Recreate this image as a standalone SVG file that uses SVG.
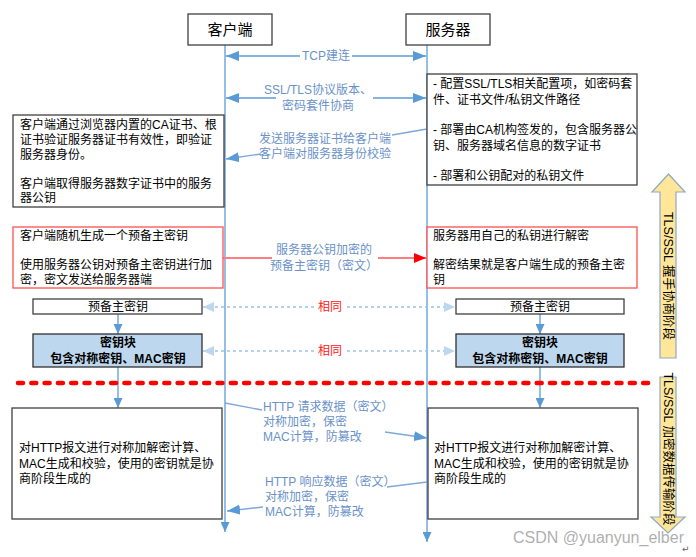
<svg xmlns="http://www.w3.org/2000/svg" width="696" height="557" viewBox="0 0 696 557">
<defs>
<style>
.t{font-family:"Liberation Sans","Noto Sans CJK SC",sans-serif;font-size:12px;fill:#000}
.h{font-family:"Liberation Sans","Noto Sans CJK SC",sans-serif;font-size:15px;fill:#000;text-anchor:middle}
.b{font-family:"Liberation Sans","Noto Sans CJK SC",sans-serif;font-size:12px;font-weight:bold;fill:#000;text-anchor:middle}
.lb{font-family:"Liberation Sans","Noto Sans CJK SC",sans-serif;font-size:12px;fill:#6A92C8}
.same{font-family:"Liberation Sans","Noto Sans CJK SC",sans-serif;font-size:12px;fill:#FF2020;text-anchor:middle}
.box{fill:#fff;stroke:#404040;stroke-width:1.3}
.rbox{fill:#fff;stroke:#FF5050;stroke-width:1.3}
.kbox{fill:#BDD7EE;stroke:#303030;stroke-width:1.3}
.life{stroke:#5B9BD5;stroke-width:1.3;fill:none}
.arr{stroke:#5B9BD5;stroke-width:1.5;fill:none}
.arrl{stroke:#7FA7D8;stroke-width:1.3;fill:none}
.red{stroke:#FF7C80;stroke-width:2;fill:none}
.dash{stroke:#9DC3E6;stroke-width:1.3;stroke-dasharray:3 3;fill:none}
.banner{fill:#FFE699;stroke:#8EA9C8;stroke-width:1.2}
.bt{font-family:"Liberation Sans","Noto Sans CJK SC",sans-serif;font-size:12.5px;fill:#000;text-anchor:middle}
</style>
<marker id="ab" markerUnits="userSpaceOnUse" markerWidth="13" markerHeight="10" refX="13" refY="5" orient="auto-start-reverse"><path d="M0,0 L13,5 L0,10 z" fill="#5B9BD5"/></marker>
<marker id="abs" markerUnits="userSpaceOnUse" markerWidth="10" markerHeight="9" refX="10" refY="4.5" orient="auto-start-reverse"><path d="M0,0 L10,4.5 L0,9 z" fill="#5B9BD5"/></marker>
<marker id="ar" markerUnits="userSpaceOnUse" markerWidth="12" markerHeight="10" refX="12" refY="5" orient="auto"><path d="M0,0 L12,5 L0,10 z" fill="#FF0000"/></marker>
<marker id="al" markerUnits="userSpaceOnUse" markerWidth="11" markerHeight="10" refX="11" refY="5" orient="auto-start-reverse"><path d="M0,0 L11,5 L0,10 z" fill="#BDD7EE"/></marker>
</defs>
<rect width="696" height="557" fill="#fff"/>

<g id="connectors">
<line class="life" x1="225" y1="45" x2="225" y2="532" marker-end="url(#abs)"/>
<line class="life" x1="427" y1="45" x2="427" y2="542" marker-end="url(#abs)"/>
<line class="arr" x1="226" y1="56" x2="300" y2="56" marker-start="url(#ab)"/>
<line class="arr" x1="352" y1="56" x2="426" y2="56" marker-end="url(#ab)"/>
<line class="arr" x1="226" y1="98" x2="276" y2="98" marker-start="url(#ab)"/>
<line class="arr" x1="373" y1="98" x2="426" y2="98" marker-end="url(#ab)"/>
<line class="arrl" x1="427" y1="129" x2="392" y2="135"/>
<line class="arrl" x1="261" y1="154" x2="226" y2="159" marker-end="url(#ab)"/>
<line class="red" x1="223" y1="258" x2="272" y2="258"/>
<line class="red" x1="378" y1="258" x2="426" y2="258" marker-end="url(#ar)"/>
<line class="dash" x1="203" y1="307" x2="455" y2="307" marker-start="url(#al)" marker-end="url(#al)"/>
<line class="dash" x1="203" y1="351" x2="455" y2="351" marker-start="url(#al)" marker-end="url(#al)"/>
<line class="life" x1="118" y1="314" x2="118" y2="334" marker-end="url(#abs)"/>
<line class="life" x1="540" y1="314" x2="540" y2="334" marker-end="url(#abs)"/>
<line class="life" x1="118" y1="367" x2="118" y2="408" marker-end="url(#abs)"/>
<line class="life" x1="540" y1="367" x2="540" y2="408" marker-end="url(#abs)"/>
<line class="arrl" x1="225" y1="403" x2="262" y2="410"/>
<line class="arrl" x1="385" y1="432" x2="427" y2="438" marker-end="url(#ab)"/>
<line class="arrl" x1="427" y1="482" x2="387" y2="487"/>
<line class="arrl" x1="263" y1="507" x2="227" y2="511" marker-end="url(#ab)"/>
<line x1="18" y1="383" x2="652" y2="383" stroke="#FF0000" stroke-width="4.5" stroke-dasharray="5 8.3" stroke-linecap="round"/>
</g>

<g id="labels">
<text class="lb" x="326" y="60" text-anchor="middle">TCP建连</text>
<text class="lb" x="318" y="94" text-anchor="middle">SSL/TLS协议版本、</text>
<text class="lb" x="318" y="110" text-anchor="middle">密码套件协商</text>
<text class="lb" x="325" y="143" text-anchor="middle">发送服务器证书给客户端</text>
<text class="lb" x="325" y="158" text-anchor="middle">客户端对服务器身份校验</text>
<text class="lb" x="324" y="254" text-anchor="middle">服务器公钥加密的</text>
<text class="lb" x="324" y="270" text-anchor="middle">预备主密钥（密文）</text>
<rect x="314" y="299" width="32" height="16" fill="#fff"/>
<text class="same" x="330" y="311">相同</text>
<rect x="314" y="343" width="32" height="16" fill="#fff"/>
<text class="same" x="330" y="355">相同</text>
<text class="lb" x="263" y="411">HTTP 请求数据（密文）</text>
<text class="lb" x="263" y="426">对称加密，保密</text>
<text class="lb" x="263" y="441">MAC计算，防篡改</text>
<text class="lb" x="265" y="486">HTTP 响应数据（密文）</text>
<text class="lb" x="265" y="501">对称加密，保密</text>
<text class="lb" x="265" y="516">MAC计算，防篡改</text>
</g>

<g id="client">
<rect class="box" x="188" y="14" width="84" height="31"/>
<text class="h" x="230" y="35">客户端</text>
</g>
<g id="server">
<rect class="box" x="406" y="14" width="84" height="31"/>
<text class="h" x="448" y="35">服务器</text>
</g>

<g id="client-verify">
<rect class="box" x="13" y="115" width="211" height="92"/>
<text class="t" x="20" y="129">客户端通过浏览器内置的CA证书、根</text>
<text class="t" x="20" y="144">证书验证服务器证书有效性，即验证</text>
<text class="t" x="20" y="158.5">服务器身份。</text>
<text class="t" x="20" y="187.5">客户端取得服务器数字证书中的服务</text>
<text class="t" x="20" y="202">器公钥</text>
</g>

<g id="server-config">
<rect class="box" x="427" y="74" width="210" height="111"/>
<text class="t" x="433" y="88">- 配置SSL/TLS相关配置项，如密码套</text>
<text class="t" x="433" y="104">件、证书文件/私钥文件路径</text>
<text class="t" x="433" y="134">- 部署由CA机构签发的，包含服务器公</text>
<text class="t" x="433" y="150">钥、服务器域名信息的数字证书</text>
<text class="t" x="433" y="180">- 部署和公钥配对的私钥文件</text>
</g>

<g id="client-premaster">
<rect class="rbox" x="13" y="227" width="210" height="61"/>
<text class="t" x="20" y="240">客户端随机生成一个预备主密钥</text>
<text class="t" x="20" y="269">使用服务器公钥对预备主密钥进行加</text>
<text class="t" x="20" y="284">密，密文发送给服务器端</text>
</g>

<g id="server-decrypt">
<rect class="rbox" x="427" y="227" width="210" height="61"/>
<text class="t" x="433" y="240">服务器用自己的私钥进行解密</text>
<text class="t" x="433" y="269">解密结果就是客户端生成的预备主密</text>
<text class="t" x="433" y="284">钥</text>
</g>

<g id="client-pms">
<rect class="box" x="33" y="299" width="169" height="15"/>
<text class="t" x="118" y="310.5" text-anchor="middle">预备主密钥</text>
</g>
<g id="server-pms">
<rect class="box" x="456" y="299" width="168" height="15"/>
<text class="t" x="540" y="310.5" text-anchor="middle">预备主密钥</text>
</g>

<g id="client-keyblock">
<rect class="kbox" x="33" y="334" width="169" height="33"/>
<text class="b" x="118" y="347">密钥块</text>
<text class="b" x="118" y="363">包含对称密钥、MAC密钥</text>
</g>
<g id="server-keyblock">
<rect class="kbox" x="456" y="334" width="168" height="33"/>
<text class="b" x="540" y="347">密钥块</text>
<text class="b" x="540" y="363">包含对称密钥、MAC密钥</text>
</g>

<g id="client-http">
<rect class="box" x="12" y="408" width="210" height="111"/>
<text class="t" x="19" y="452">对HTTP报文进行对称加解密计算、</text>
<text class="t" x="19" y="468">MAC生成和校验，使用的密钥就是协</text>
<text class="t" x="19" y="483">商阶段生成的</text>
</g>
<g id="server-http">
<rect class="box" x="428" y="408" width="210" height="111"/>
<text class="t" x="434" y="452">对HTTP报文进行对称加解密计算、</text>
<text class="t" x="434" y="468">MAC生成和校验，使用的密钥就是协</text>
<text class="t" x="434" y="483">商阶段生成的</text>
</g>

<g id="handshake-phase">
<polygon class="banner" points="668.5,174 685,192 676,192 676,358 660,358 660,192 652,192"/>
<text class="bt" transform="translate(668,276) rotate(90)" y="4.5">TLS/SSL 握手协商阶段</text>
</g>
<g id="transfer-phase">
<polygon class="banner" points="660,377 676,377 676,517 685,517 668,533 651,517 660,517"/>
<text class="bt" transform="translate(668,449) rotate(90)" y="4.5">TLS/SSL 加密数据传输阶段</text>
</g>

<text x="513" y="543" font-family="Liberation Sans,sans-serif" font-size="16" fill="#A0A0A0" fill-opacity="0.85">CSDN @yuanyun_elber</text>
<text x="682" y="552" font-family="DejaVu Sans,sans-serif" font-size="9" fill="#606060">↵</text>
</svg>
